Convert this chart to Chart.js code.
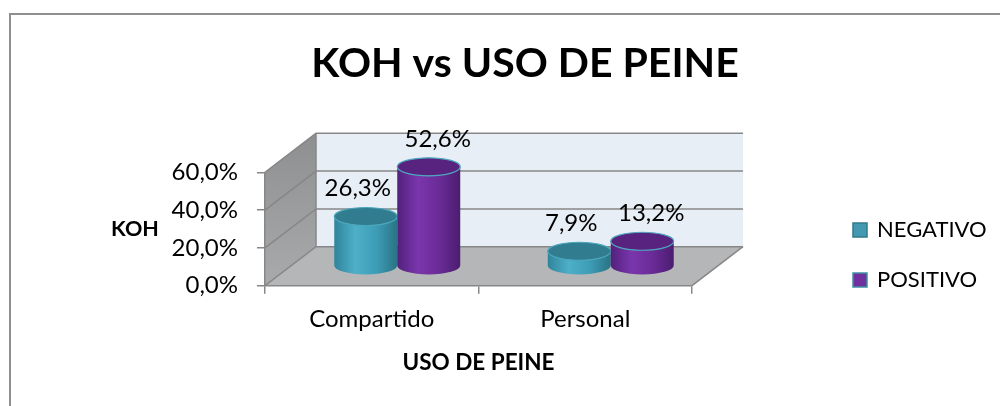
<!DOCTYPE html>
<html>
<head>
<meta charset="utf-8">
<script src="https://cdn.jsdelivr.net/npm/chart.js@4.4.1/dist/chart.umd.min.js"></script>
<style>
  html, body { margin: 0; padding: 0; background: #fff; }
  #wrap { position: relative; width: 1000px; height: 406px; overflow: hidden; }
  #frame { position: absolute; left: 9px; top: 13px; width: 1200px; height: 600px; border: 2px solid #8e8e8e; }
  #chart { position: absolute; left: 0; top: 0; }
</style>
</head>
<body>
<div id="wrap">
  <div id="frame"></div>
  <canvas id="chart" width="1000" height="406"></canvas>
</div>
<script>
const categories = ["Compartido", "Personal"];
const series_names = ["NEGATIVO", "POSITIVO"];
const negativo = [26.3, 7.9];
const positivo = [52.6, 13.2];
const y_max = 60;
const y_step = 20;

const FONT = "Lato";
const DEPTH_X = 51;
const DEPTH_Y = -39;
const LINE = "#878787";

const cylinder_styles = [
  {
    solid: "#4399b1",
    edge: "#2f7a8b",
    body: ["#2f849b", "#4eafc8", "#3d9db6", "#2a7385"],
    top: "#317c8e",
    rim: "#4aa6bd",
    label_dx: -8,
  },
  {
    solid: "#7030a0",
    edge: "#3f8ea3",
    body: ["#52217c", "#7a36ac", "#6a2b97", "#4b1d70"],
    top: "#58237f",
    rim: "#4da6bd",
    label_dx: 9,
  },
];

const fmtPct = (v) => v.toFixed(1).replace(".", ",") + "%";

const drawCylinder = (ctx, cx, top, bottom, rx, ry, style) => {
  const grad = ctx.createLinearGradient(cx - rx, 0, cx + rx, 0);
  style.body.forEach((c, i) => grad.addColorStop(i / (style.body.length - 1), c));
  ctx.beginPath();
  ctx.moveTo(cx - rx, top);
  ctx.lineTo(cx - rx, bottom);
  ctx.ellipse(cx, bottom, rx, ry, 0, Math.PI, 0, true);
  ctx.lineTo(cx + rx, top);
  ctx.ellipse(cx, top, rx, ry, 0, 0, Math.PI, false);
  ctx.closePath();
  ctx.fillStyle = grad;
  ctx.fill();
  ctx.beginPath();
  ctx.ellipse(cx, top, rx, ry, 0, 0, Math.PI * 2);
  ctx.fillStyle = style.top;
  ctx.fill();
  ctx.lineWidth = 1.2;
  ctx.strokeStyle = style.rim;
  ctx.stroke();
};

// back wall, side wall and floor of the excel style 3d box
const box3d = {
  id: "box3d",
  beforeDraw(chart) {
    const { ctx, chartArea: { left, right }, scales: { y } } = chart;
    const yF = (v) => y.getPixelForValue(v);
    const yB = (v) => y.getPixelForValue(v) + DEPTH_Y;
    ctx.save();
    // side wall
    const side = ctx.createLinearGradient(0, yB(y.max), 0, yF(0));
    side.addColorStop(0, "#8e8f90");
    side.addColorStop(1, "#a9aaab");
    ctx.beginPath();
    ctx.moveTo(left, yF(y.max));
    ctx.lineTo(left, yF(0));
    ctx.lineTo(left + DEPTH_X, yB(0));
    ctx.lineTo(left + DEPTH_X, yB(y.max));
    ctx.closePath();
    ctx.fillStyle = side;
    ctx.fill();
    // back wall
    ctx.fillStyle = "#e8eef6";
    ctx.fillRect(left + DEPTH_X, yB(y.max), right - left, yB(0) - yB(y.max));
    // floor
    ctx.beginPath();
    ctx.moveTo(left, yF(0));
    ctx.lineTo(right, yF(0));
    ctx.lineTo(right + DEPTH_X, yB(0));
    ctx.lineTo(left + DEPTH_X, yB(0));
    ctx.closePath();
    ctx.fillStyle = "#b4b6b8";
    ctx.fill();
    // grid lines
    ctx.strokeStyle = LINE;
    ctx.lineWidth = 1.5;
    y.ticks.forEach(({ value }) => {
      ctx.beginPath();
      ctx.moveTo(left, yF(value));
      ctx.lineTo(left + DEPTH_X, yB(value));
      ctx.lineTo(right + DEPTH_X, yB(value));
      ctx.stroke();
    });
    ctx.beginPath();
    ctx.moveTo(left + DEPTH_X, yB(y.max));
    ctx.lineTo(left + DEPTH_X, yB(0));
    ctx.moveTo(right, yF(0));
    ctx.lineTo(right + DEPTH_X, yB(0));
    ctx.stroke();
    ctx.restore();
  },
  beforeDatasetDraw() {
    return false;
  },
  afterDatasetsDraw(chart) {
    const { ctx } = chart;
    ctx.save();
    const labels = [];
    chart.data.datasets.forEach((ds, i) => {
      const meta = chart.getDatasetMeta(i);
      meta.data.forEach((bar, j) => {
        const cx = bar.x + DEPTH_X / 2;
        const top = bar.y + DEPTH_Y / 2;
        const bottom = bar.base + DEPTH_Y / 2;
        drawCylinder(ctx, cx, top, bottom, bar.width / 2, 9, cylinder_styles[i]);
        labels.push({ x: cx + cylinder_styles[i].label_dx, y: top - 20, text: fmtPct(ds.data[j]) });
      });
    });
    ctx.fillStyle = "#000";
    ctx.font = `24px ${FONT}`;
    ctx.textAlign = "center";
    ctx.textBaseline = "alphabetic";
    labels.forEach(({ x, y, text }) => ctx.fillText(text, x, y));
    ctx.restore();
  },
  afterDraw(chart) {
    const { ctx, chartArea } = chart;
    ctx.save();
    // y axis title, written horizontally like excel does
    ctx.fillStyle = "#000";
    ctx.font = `bold 21.5px ${FONT}`;
    ctx.textAlign = "center";
    ctx.textBaseline = "middle";
    ctx.fillText("KOH", 135, 229);
    // legend
    ctx.font = `22px ${FONT}`;
    ctx.textAlign = "left";
    chart.data.datasets.forEach((ds, i) => {
      const bx = chartArea.right + 161;
      const cy = 230 + i * 50;
      ctx.fillStyle = cylinder_styles[i].solid;
      ctx.fillRect(bx, cy - 7, 14, 14);
      ctx.strokeStyle = cylinder_styles[i].edge;
      ctx.lineWidth = 1.5;
      ctx.strokeRect(bx, cy - 7, 14, 14);
      ctx.fillStyle = "#000";
      ctx.fillText(ds.label, bx + 24, cy);
    });
    ctx.restore();
  },
};

new Chart(document.getElementById("chart"), {
  type: "bar",
  data: {
    labels: categories,
    datasets: [
      {
        label: series_names[0],
        data: negativo,
        backgroundColor: cylinder_styles[0].solid,
        barPercentage: 1,
        categoryPercentage: 0.59,
      },
      {
        label: series_names[1],
        data: positivo,
        backgroundColor: cylinder_styles[1].solid,
        barPercentage: 1,
        categoryPercentage: 0.59,
      },
    ],
  },
  options: {
    responsive: false,
    animation: false,
    layout: { padding: { left: 60, right: 10, top: 0, bottom: 0 } },
    plugins: {
      legend: { display: false },
      tooltip: { enabled: false },
      title: {
        display: true,
        text: "KOH vs USO DE PEINE",
        color: "#000",
        font: { family: FONT, size: 41, weight: "bold", lineHeight: 1.2 },
        padding: { top: 39.2, bottom: 83.9 },
      },
    },
    scales: {
      x: {
        offset: true,
        ticks: { padding: 11, color: "#000", font: { family: FONT, size: 24 } },
        grid: { offset: true, drawOnChartArea: false, tickLength: 8, color: LINE, lineWidth: 1.5 },
        border: { color: LINE, width: 1.5 },
        title: {
          display: true,
          text: "USO DE PEINE",
          color: "#000",
          font: { family: FONT, size: 22.5, weight: "bold", lineHeight: 1.2 },
          padding: { top: 0, bottom: 29.8 },
        },
        afterFit: (scale) => {
          scale.height = 120.3;
        },
      },
      y: {
        min: 0,
        max: y_max,
        ticks: {
          stepSize: y_step,
          padding: 19,
          color: "#000",
          font: { family: FONT, size: 24 },
          callback: (v) => fmtPct(v),
        },
        grid: { drawOnChartArea: false, tickLength: 8, color: LINE, lineWidth: 1.5 },
        border: { color: LINE, width: 1.5 },
        afterFit: (scale) => {
          scale.width = 205;
        },
      },
      // empty axis that keeps the room between the 3d floor and the legend
      y2: {
        position: "right",
        grid: { display: false },
        ticks: { display: false },
        border: { display: false },
        afterFit: (scale) => {
          scale.width = 298;
        },
      },
    },
  },
  plugins: [box3d],
});
</script>
</body>
</html>
